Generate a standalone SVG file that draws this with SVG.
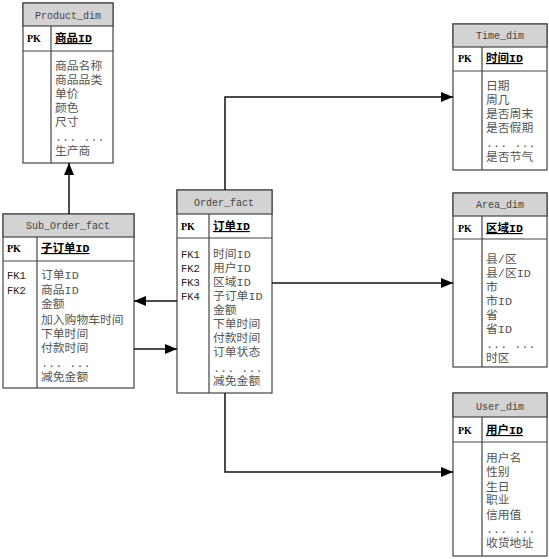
<svg xmlns="http://www.w3.org/2000/svg" width="549" height="559" viewBox="0 0 549 559">
<defs>
<marker id="arr" viewBox="0 0 12 10" refX="12" refY="5" markerWidth="12" markerHeight="10" markerUnits="userSpaceOnUse" orient="auto">
<path d="M0,0 L12,5 L0,10 z" fill="#000"/>
</marker>
<style>
.box{fill:#fff;stroke:#444;stroke-width:1.2}
.hdr{fill:#d3d3d3;stroke:#444;stroke-width:1.2}
.ln{stroke:#444;stroke-width:1.2;fill:none}
.title{font-family:"Liberation Mono","Noto Sans CJK SC",monospace;font-size:10px;fill:#444;text-anchor:middle}
.pk{font-family:"Liberation Serif","Noto Sans CJK SC",serif;font-size:10px;font-weight:bold;fill:#000}
.key{font-family:"Liberation Mono","Noto Sans CJK SC",monospace;font-size:11.5px;font-weight:bold;fill:#000;text-decoration:underline}
.fk{font-family:"Liberation Mono","Noto Sans CJK SC",monospace;font-size:10.5px;fill:#222}
.f{font-family:"Liberation Mono","Noto Sans CJK SC",monospace;font-size:11.8px;fill:#555}
.conn{stroke:#111;stroke-width:1.5;fill:none}
</style>
</defs>

<g id="Product_dim">
<rect class="box" x="23" y="3" width="90" height="160"/>
<rect class="hdr" x="23" y="3" width="90" height="23"/>
<line class="ln" x1="23" y1="51" x2="113" y2="51"/>
<line class="ln" x1="51" y1="26" x2="51" y2="163"/>
<text class="title" x="68" y="19">Product_dim</text>
<text class="pk" x="27" y="42">PK</text>
<text class="key" x="55" y="42">商品ID</text>
<text class="f" x="55" y="70">商品名称</text>
<text class="f" x="55" y="84">商品品类</text>
<text class="f" x="55" y="98">单价</text>
<text class="f" x="55" y="112">颜色</text>
<text class="f" x="55" y="126">尺寸</text>
<text class="f" x="55" y="141">... ...</text>
<text class="f" x="55" y="155">生产商</text>
</g>

<g id="Time_dim">
<rect class="box" x="453" y="24" width="94" height="146"/>
<rect class="hdr" x="453" y="24" width="94" height="23"/>
<line class="ln" x1="453" y1="71" x2="547" y2="71"/>
<line class="ln" x1="482" y1="47" x2="482" y2="170"/>
<text class="title" x="500" y="39">Time_dim</text>
<text class="pk" x="458" y="62">PK</text>
<text class="key" x="486" y="62">时间ID</text>
<text class="f" x="486" y="90">日期</text>
<text class="f" x="486" y="104">周几</text>
<text class="f" x="486" y="118">是否周末</text>
<text class="f" x="486" y="132">是否假期</text>
<text class="f" x="486" y="147">... ...</text>
<text class="f" x="486" y="161">是否节气</text>
</g>

<g id="Sub_Order_fact">
<rect class="box" x="3" y="214" width="131" height="174"/>
<rect class="hdr" x="3" y="214" width="131" height="23"/>
<line class="ln" x1="3" y1="261" x2="134" y2="261"/>
<line class="ln" x1="37" y1="237" x2="37" y2="388"/>
<text class="title" x="68" y="229">Sub_Order_fact</text>
<text class="pk" x="7" y="252">PK</text>
<text class="key" x="41" y="252">子订单ID</text>
<text class="fk" x="7" y="279">FK1</text>
<text class="fk" x="7" y="294">FK2</text>
<text class="f" x="41" y="279">订单ID</text>
<text class="f" x="41" y="294">商品ID</text>
<text class="f" x="41" y="308">金额</text>
<text class="f" x="41" y="324">加入购物车时间</text>
<text class="f" x="41" y="338">下单时间</text>
<text class="f" x="41" y="352">付款时间</text>
<text class="f" x="41" y="367">... ...</text>
<text class="f" x="41" y="381">减免金额</text>
</g>

<g id="Order_fact">
<rect class="box" x="177" y="190" width="95" height="203"/>
<rect class="hdr" x="177" y="190" width="95" height="24"/>
<line class="ln" x1="177" y1="238" x2="272" y2="238"/>
<line class="ln" x1="209" y1="214" x2="209" y2="393"/>
<text class="title" x="224" y="206">Order_fact</text>
<text class="pk" x="181" y="230">PK</text>
<text class="key" x="213" y="230">订单ID</text>
<text class="fk" x="181" y="258">FK1</text>
<text class="fk" x="181" y="272">FK2</text>
<text class="fk" x="181" y="286">FK3</text>
<text class="fk" x="181" y="300">FK4</text>
<text class="f" x="213" y="258">时间ID</text>
<text class="f" x="213" y="272">用户ID</text>
<text class="f" x="213" y="286">区域ID</text>
<text class="f" x="213" y="300">子订单ID</text>
<text class="f" x="213" y="314">金额</text>
<text class="f" x="213" y="328">下单时间</text>
<text class="f" x="213" y="342">付款时间</text>
<text class="f" x="213" y="356">订单状态</text>
<text class="f" x="213" y="372">... ...</text>
<text class="f" x="213" y="385">减免金额</text>
</g>

<g id="Area_dim">
<rect class="box" x="453" y="193" width="94" height="174"/>
<rect class="hdr" x="453" y="193" width="94" height="23"/>
<line class="ln" x1="453" y1="239" x2="547" y2="239"/>
<line class="ln" x1="482" y1="216" x2="482" y2="367"/>
<text class="title" x="500" y="208">Area_dim</text>
<text class="pk" x="458" y="232">PK</text>
<text class="key" x="486" y="232">区域ID</text>
<text class="f" x="486" y="263">县/区</text>
<text class="f" x="486" y="277">县/区ID</text>
<text class="f" x="486" y="291">市</text>
<text class="f" x="486" y="305">市ID</text>
<text class="f" x="486" y="319">省</text>
<text class="f" x="486" y="333">省ID</text>
<text class="f" x="486" y="348">... ...</text>
<text class="f" x="486" y="362">时区</text>
</g>

<g id="User_dim">
<rect class="box" x="453" y="393" width="94" height="163"/>
<rect class="hdr" x="453" y="393" width="94" height="24"/>
<line class="ln" x1="453" y1="442" x2="547" y2="442"/>
<line class="ln" x1="482" y1="417" x2="482" y2="556"/>
<text class="title" x="500" y="410">User_dim</text>
<text class="pk" x="458" y="434">PK</text>
<text class="key" x="486" y="434">用户ID</text>
<text class="f" x="486" y="462">用户名</text>
<text class="f" x="486" y="476">性别</text>
<text class="f" x="486" y="491">生日</text>
<text class="f" x="486" y="504">职业</text>
<text class="f" x="486" y="519">信用值</text>
<text class="f" x="486" y="533">... ...</text>
<text class="f" x="486" y="547">收货地址</text>
</g>

<g id="connectors">
<path class="conn" d="M69,214 L69,163" marker-end="url(#arr)"/>
<path class="conn" d="M225,190 L225,97 L453,97" marker-end="url(#arr)"/>
<path class="conn" d="M272,283 L453,283" marker-end="url(#arr)"/>
<path class="conn" d="M225,393 L225,472 L453,472" marker-end="url(#arr)"/>
<path class="conn" d="M177,301 L134,301" marker-end="url(#arr)"/>
<path class="conn" d="M134,349 L177,349" marker-end="url(#arr)"/>
</g>
</svg>
